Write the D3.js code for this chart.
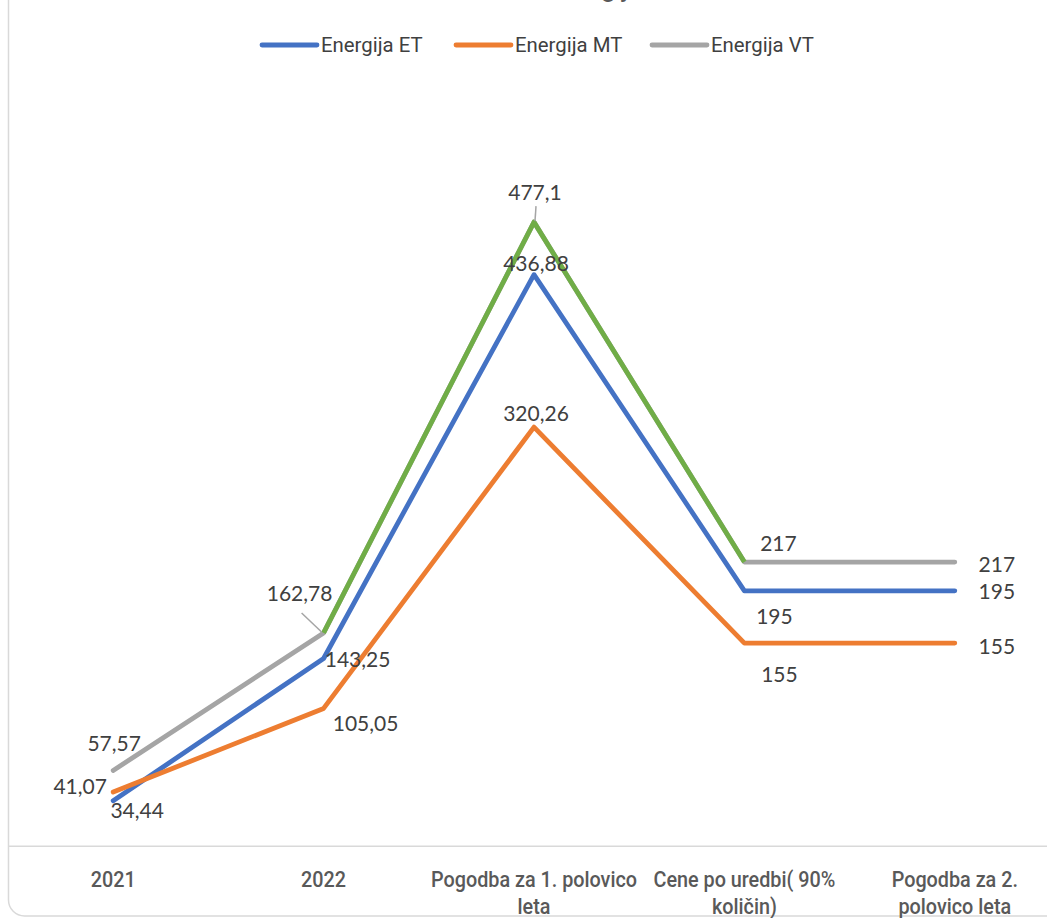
<!DOCTYPE html>
<html><head><meta charset="utf-8">
<script src="https://cdn.jsdelivr.net/npm/d3@7"></script>
<style>
html,body{margin:0;padding:0;background:#fff;overflow:hidden;}
svg{display:block;}
</style></head>
<body>
<div id="chart"></div>
<script>
// ---- data ----
const categories = ["2021", "2022", "Pogodba za 1. polovico leta", "Cene po uredbi( 90% količin)", "Pogodba za 2. polovico leta"];
const categoryLines = [["2021"], ["2022"], ["Pogodba za 1. polovico", "leta"], ["Cene po uredbi( 90%", "količin)"], ["Pogodba za 2.", "polovico leta"]];
const seriesNames = ["Energija ET", "Energija MT", "Energija VT"];
const energijaET = [34.44, 143.25, 436.88, 195, 195];
const energijaMT = [41.07, 105.05, 320.26, 155, 155];
const energijaVT = [57.57, 162.78, 477.1, 217, 217];
const labelsET = ["34,44", "143,25", "436,88", "195", "195"];
const labelsMT = ["41,07", "105,05", "320,26", "155", "155"];
const labelsVT = ["57,57", "162,78", "477,1", "217", "217"];
const yDomain = [0, 600];

// ---- layout / style ----
const W = 1047, H = 918;
const colors = ["#4472C4", "#ED7D31", "#A5A5A5"];
const highlightColor = "#70AD47";
const vtHighlight = [1, 3]; // VT segments drawn green
const condFont = "Roboto,'DejaVu Sans',sans-serif";
const axisCondense = 0.9;
const legendCondense = 0.97;
// label offsets [dx, dy] relative to point
const offsets = [
  [[24, 9], [34, 0], [2, -12], [30, 25], [42, 0]],
  [[-33, -7], [42, 14], [2, -15], [35, 30], [42, 2]],
  [[1, -28], [-24, -40], [1, -31], [34, -20], [42, 1]]
];
const leaders = {2: {1: [[-22, -20], [-2, -1]], 2: [[2, -16], [1, -1]]}};

const svg = d3.select("#chart").append("svg").attr("width", W).attr("height", H);

// frame
svg.append("rect").attr("x", 8.5).attr("y", -30).attr("width", 1100).attr("height", 946)
  .attr("rx", 16).attr("fill", "#fff").attr("stroke", "#d9d9d9").attr("stroke-width", 1.5);

// title (mostly cut off at the top, as in the source)
svg.append("text").attr("x", 642).attr("y", -3).attr("text-anchor", "end")
  .attr("font-family", condFont).attr("font-size", 26).attr("fill", "#595959").text("Cene energije");

const x = d3.scaleBand().domain(categories).range([8, 1060]).padding(0);
const y = d3.scaleLinear().domain(yDomain).range([845.7, 61.5]);
const cx = c => x(c) + x.bandwidth() / 2;

// x axis
const xAxis = d3.axisBottom(x).tickSize(0).tickFormat("");
const gx = svg.append("g").attr("transform", "translate(0,845.7)").call(xAxis);
gx.select(".domain").attr("stroke", "#d9d9d9").attr("stroke-width", 1.5);
gx.selectAll(".tick").each(function(d, i) {
  const t = d3.select(this).append("text").attr("fill", "#595959")
    .attr("font-family", condFont).attr("font-weight", 500).attr("font-size", 22)
    .attr("text-anchor", "middle").attr("transform", `scale(${axisCondense},1)`);
  categoryLines[i].forEach((ln, k) => {
    t.append("tspan").attr("x", 0).attr("y", 41 + k * 27).text(ln);
  });
});

// lines
const data = [energijaET, energijaMT, energijaVT];
const labels = [labelsET, labelsMT, labelsVT];
const line = d3.line().x((d, i) => cx(categories[i])).y(d => y(d));
const lineG = svg.append("g");
data.forEach((vals, s) => {
  lineG.append("path").datum(vals).attr("d", line).attr("fill", "none")
    .attr("stroke", colors[s]).attr("stroke-width", 4.8)
    .attr("stroke-linejoin", "round").attr("stroke-linecap", "round");
});
// highlighted VT segments
const segLine = d3.line().x(d => cx(categories[d])).y(d => y(energijaVT[d]));
const hIdx = d3.range(vtHighlight[0], vtHighlight[1] + 1);
lineG.append("path").datum(hIdx).attr("d", segLine).attr("fill", "none")
  .attr("stroke", highlightColor).attr("stroke-width", 4.8)
  .attr("stroke-linejoin", "round").attr("stroke-linecap", "butt");

// leader lines & labels
const labG = svg.append("g");
data.forEach((vals, s) => {
  vals.forEach((v, i) => {
    const px = cx(categories[i]), py = y(v);
    if (leaders[s] && leaders[s][i]) {
      const [a, b] = leaders[s][i];
      labG.append("line").attr("x1", px + a[0]).attr("y1", py + a[1])
        .attr("x2", px + b[0]).attr("y2", py + b[1])
        .attr("stroke", "#A5A5A5").attr("stroke-width", 1.5);
    }
    labG.append("text").attr("x", px + offsets[s][i][0]).attr("y", py + offsets[s][i][1])
      .attr("text-anchor", "middle").attr("dominant-baseline", "central")
      .attr("font-family", "Lato,'Open Sans',sans-serif").attr("font-size", 21)
      .attr("fill", "#404040").text(labels[s][i]);
  });
});

// legend
const legX = [262, 456, 652];
const leg = svg.append("g");
seriesNames.forEach((n, s) => {
  leg.append("line").attr("x1", legX[s]).attr("x2", legX[s] + 55).attr("y1", 45).attr("y2", 45)
    .attr("stroke", colors[s]).attr("stroke-width", 4.8).attr("stroke-linecap", "round");
  leg.append("text").attr("transform", `translate(${legX[s] + 59},45) scale(${legendCondense},1)`)
    .attr("dominant-baseline", "central")
    .attr("font-family", condFont).attr("font-size", 21).attr("fill", "#404040").text(n);
});
</script>
</body></html>
